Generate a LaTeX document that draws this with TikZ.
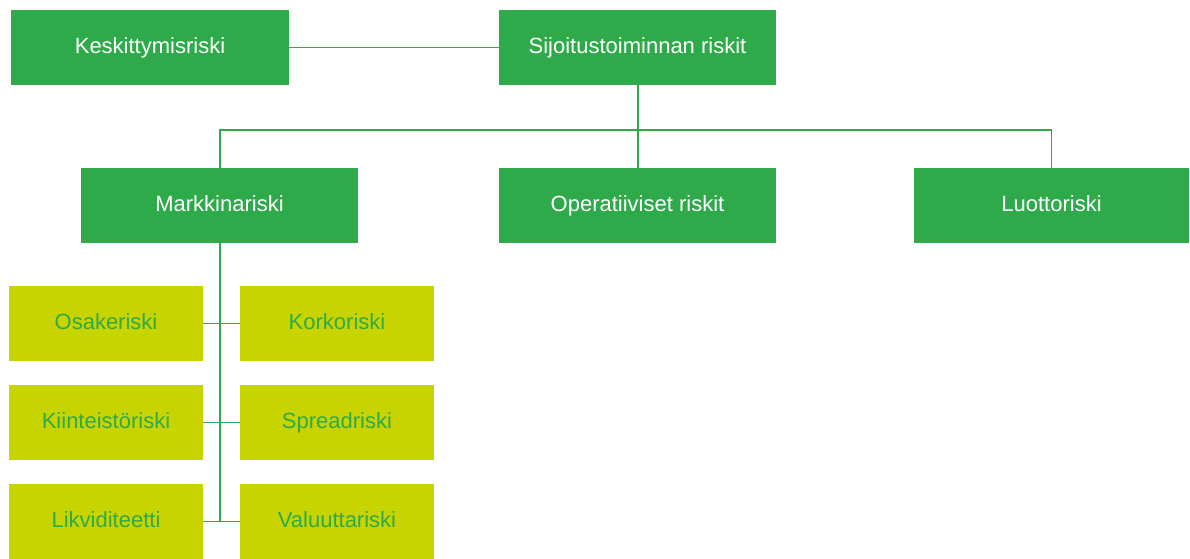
\documentclass[tikz,border=0pt]{standalone}
\usepackage{fontspec}
\setmainfont{Liberation Sans}
\definecolor{dgreen}{HTML}{2EAA4A}
\definecolor{lime}{HTML}{C8D400}
\definecolor{lgtxt}{HTML}{2EAA4A}
\begin{document}
\begin{tikzpicture}[x=1pt,y=-1pt,
  mainbox/.style={fill=dgreen,draw=none,text=white,minimum width=277pt,minimum height=75pt,inner sep=0pt,text height=16pt,text depth=5pt,font=\fontsize{22}{26}\selectfont},
  subbox/.style={fill=lime,draw=none,text=lgtxt,minimum width=194pt,minimum height=75pt,inner sep=0pt,text height=16pt,text depth=5pt,font=\fontsize{22}{26}\selectfont},
  conn/.style={draw=dgreen,line width=1.3pt}]
\useasboundingbox (0,0) rectangle (1190,558);
\node[mainbox,minimum width=278pt] (kes) at (150,47.5) {Keskittymisriski};
\node[mainbox] (sij) at (637.5,47.5) {Sijoitustoiminnan riskit};
\node[mainbox] (mar) at (219.5,205.5) {Markkinariski};
\node[mainbox] (ope) at (637.5,205.5) {Operatiiviset riskit};
\node[mainbox,minimum width=275pt] (luo) at (1051.5,205.5) {Luottoriski};
\node[subbox] (osa) at (106,323.5) {Osakeriski};
\node[subbox] (kor) at (337,323.5) {Korkoriski};
\node[subbox] (kii) at (106,422.5) {Kiinteistöriski};
\node[subbox] (spr) at (337,422.5) {Spreadriski};
\node[subbox] (lik) at (106,521.5) {Likviditeetti};
\node[subbox] (val) at (337,521.5) {Valuuttariski};
\coordinate (top) at (638,130);
\coordinate (mend) at (220,521.5);
\draw[conn] (kes.east) -- (sij.west);
\draw[conn] (sij.south -| top) -- (top);
\draw[conn] (mar.north -| mend) |- (top);
\draw[conn] (luo.north) |- (top);
\draw[conn] (ope.north -| top) -- (top);
\draw[conn] (mar.south -| mend) -- (mend);
\draw[conn] (osa.east) -- (kor.west);
\draw[conn] (kii.east) -- (spr.west);
\draw[conn] (lik.east) -- (val.west);
\end{tikzpicture}
\end{document}
